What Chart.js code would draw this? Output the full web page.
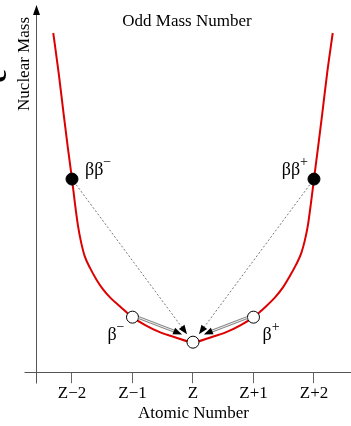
<!DOCTYPE html>
<html>
<head>
<meta charset="utf-8">
<script src="https://cdn.jsdelivr.net/npm/chart.js@4.4.1/dist/chart.umd.min.js"></script>
<style>
  body { margin: 0; background: #fff; }
  #wrap { width: 351px; height: 426px; position: relative; }
</style>
</head>
<body>
<div id="wrap"><canvas id="massChart" width="351" height="426"></canvas></div>
<script>
// mass curve for odd A (arbitrary units)
const curveZ    = [-2.31, -2.22, -2.14, -2.07, -2.00, -1.95, -1.90, -1.85, -1.79, -1.70, -1.60, -1.49, -1.36, -1.21,
                   -1.00, -0.79, -0.55, -0.30, 0.00,
                   0.30, 0.55, 0.79, 1.00, 1.21, 1.36, 1.49, 1.60, 1.70, 1.79, 1.85, 1.90, 1.95, 2.00, 2.07, 2.14, 2.22, 2.31];
const curveMass = [339, 299, 259, 225, 193, 168, 146, 130, 116, 104, 93, 83, 74, 66,
                   55, 47, 40, 35, 30,
                   35, 40, 47, 55, 66, 75, 85, 96, 107, 119, 132, 147, 169, 193, 226, 260, 300, 339];

// the five isobars sitting on the curve
const nuclideZ     = [-2, -1, 0, 1, 2];
const nuclideMass  = [193, 55, 30, 55, 193];
const nuclideKind  = ['filled', 'open', 'open', 'open', 'filled'];
const nuclideLabel = ['ββ', 'β', '', 'β', 'ββ'];
const nuclideSup   = ['−', '−', '', '+', '+'];

const tickValues = [-2, -1, 0, 1, 2];
const tickLabels = ['Z−2', 'Z−1', 'Z', 'Z+1', 'Z+2'];

// decays: from nuclide index -> to nuclide index
const decayFrom  = [0, 4, 1, 3];
const decayTo    = [2, 2, 2, 2];
const decayStyle = ['dotted', 'dotted', 'solid', 'solid'];

const FONT = '"Liberation Serif", "Times New Roman", serif';

// axis lines (x axis runs past the y axis, y axis has an arrow)
const axesPlugin = {
    id: 'axes',
    beforeDatasetsDraw(chart) {
        const { ctx, chartArea: a } = chart;
        const ax = Math.round(a.left) + 0.5;
        const ay = Math.round(a.bottom) + 0.5;
        const tip = a.top - 12;
        ctx.save();
        ctx.strokeStyle = '#555';
        ctx.lineWidth = 1;
        ctx.beginPath();
        ctx.moveTo(ax - 12, ay);
        ctx.lineTo(a.right, ay);
        ctx.moveTo(ax, ay + 11);
        ctx.lineTo(ax, tip + 8);
        ctx.stroke();
        ctx.fillStyle = '#000';
        ctx.beginPath();
        ctx.moveTo(ax, tip);
        ctx.lineTo(ax - 3.5, tip + 10);
        ctx.lineTo(ax + 3.5, tip + 10);
        ctx.closePath();
        ctx.fill();

        // clipped glyph peeking in from the left edge
        ctx.translate(-2, 76);
        ctx.rotate(-Math.PI / 2);
        ctx.font = 'bold 30px ' + FONT;
        ctx.textAlign = 'center';
        ctx.textBaseline = 'middle';
        ctx.fillText('e', 0, 0);
        ctx.restore();
    }
};

function arrowHead(ctx, x, y, ux, uy) {
    const len = 9, half = 3.5;
    ctx.beginPath();
    ctx.moveTo(x, y);
    ctx.lineTo(x - ux * len - uy * half, y - uy * len + ux * half);
    ctx.lineTo(x - ux * len + uy * half, y - uy * len - ux * half);
    ctx.closePath();
    ctx.fill();
}

// decay arrows and the beta labels
const decayPlugin = {
    id: 'decays',
    afterDatasetsDraw(chart) {
        const { ctx } = chart;
        const pts = chart.getDatasetMeta(0).data;
        ctx.save();
        for (let i = 0; i < decayFrom.length; i++) {
            const p = pts[decayFrom[i]], q = pts[decayTo[i]];
            const dx = q.x - p.x, dy = q.y - p.y;
            const d = Math.hypot(dx, dy);
            const ux = dx / d, uy = dy / d;
            let nx = uy, ny = -ux;
            if (ny > 0) { nx = -nx; ny = -ny; }
            ctx.fillStyle = '#000';
            if (decayStyle[i] === 'dotted') {
                const sx = p.x + ux * 7, sy = p.y + uy * 7;
                const ex = q.x - ux * 10, ey = q.y - uy * 10;
                ctx.strokeStyle = '#777';
                ctx.lineWidth = 1;
                ctx.setLineDash([2, 2]);
                ctx.beginPath();
                ctx.moveTo(sx, sy);
                ctx.lineTo(ex - ux * 8, ey - uy * 8);
                ctx.stroke();
                ctx.setLineDash([]);
                arrowHead(ctx, ex, ey, ux, uy);
            } else {
                const sx = p.x + ux * 6 + nx * 2, sy = p.y + uy * 6 + ny * 2;
                const ex = q.x - ux * 13 + nx * 3, ey = q.y - uy * 13 + ny * 3;
                ctx.beginPath();
                ctx.moveTo(sx, sy);
                ctx.lineTo(ex - ux * 8, ey - uy * 8);
                ctx.strokeStyle = '#888';
                ctx.lineWidth = 3;
                ctx.stroke();
                ctx.strokeStyle = '#eee';
                ctx.lineWidth = 1;
                ctx.stroke();
                arrowHead(ctx, ex, ey, ux, uy);
            }
        }

        // labels: ββ beside the filled dots, β below the open ones
        ctx.fillStyle = '#000';
        ctx.textBaseline = 'alphabetic';
        for (let i = 0; i < pts.length; i++) {
            if (!nuclideLabel[i]) continue;
            const p = pts[i];
            const left = nuclideZ[i] < 0;
            const dbl = nuclideKind[i] === 'filled';
            ctx.font = '18px ' + FONT;
            const w = ctx.measureText(nuclideLabel[i]).width;
            ctx.font = '14px ' + FONT;
            const ws = ctx.measureText(nuclideSup[i]).width;
            let x, y;
            if (dbl) {
                y = p.y - 4;
                x = left ? p.x + 13 : p.x - 6 - w - ws;
            } else {
                y = p.y + 23;
                x = left ? p.x - 8 - w - ws : p.x + 9;
            }
            ctx.font = '18px ' + FONT;
            ctx.fillText(nuclideLabel[i], x, y);
            ctx.font = '14px ' + FONT;
            ctx.fillText(nuclideSup[i], x + w, y - 9);
        }
        ctx.restore();
    }
};

const ctx = document.getElementById('massChart').getContext('2d');
new Chart(ctx, {
    type: 'line',
    data: {
        datasets: [{
            label: 'isobars',
            data: nuclideZ.map((z, i) => ({ x: z, y: nuclideMass[i] })),
            showLine: false,
            pointRadius: 6,
            pointBorderWidth: 1,
            pointBorderColor: '#000',
            pointBackgroundColor: nuclideKind.map(k => k === 'filled' ? '#000' : '#fff'),
            order: 0,
            clip: false
        }, {
            label: 'mass',
            data: curveZ.map((z, i) => ({ x: z, y: curveMass[i] })),
            borderColor: '#dd0000',
            borderWidth: 2,
            pointRadius: 0,
            fill: false,
            cubicInterpolationMode: 'monotone',
            order: 1,
            clip: false
        }]
    },
    options: {
        responsive: false,
        animation: false,
        layout: { autoPadding: false, padding: { left: 23, right: 0, top: 0, bottom: 2 } },
        plugins: {
            legend: { display: false },
            tooltip: { enabled: false },
            title: {
                display: true,
                text: 'Odd Mass Number',
                color: '#000',
                font: { family: FONT, size: 17, weight: 'normal' },
                padding: { top: 11, bottom: -14.4 }
            }
        },
        scales: {
            x: {
                type: 'linear',
                min: -2.595,
                max: 2.612,
                afterBuildTicks: s => { s.ticks = tickValues.map(v => ({ value: v })); },
                ticks: {
                    color: '#000',
                    padding: 0,
                    maxRotation: 0,
                    autoSkip: false,
                    font: { family: FONT, size: 17 },
                    callback: v => tickLabels[tickValues.indexOf(v)]
                },
                grid: { drawOnChartArea: false, drawTicks: true, tickLength: 11, color: '#666' },
                border: { display: false },
                title: {
                    display: true,
                    text: 'Atomic Number',
                    color: '#000',
                    font: { family: FONT, size: 17 },
                    padding: { top: 0, bottom: 0 }
                }
            },
            y: {
                type: 'linear',
                min: 0,
                max: 355,
                ticks: { display: false },
                grid: { display: false, drawTicks: false },
                border: { display: false },
                title: {
                    display: true,
                    text: 'Nuclear Mass',
                    align: 'end',
                    color: '#000',
                    font: { family: FONT, size: 17 },
                    padding: { top: -9, bottom: 1.6 }
                }
            }
        }
    },
    plugins: [axesPlugin, decayPlugin]
});
</script>
</body>
</html>
